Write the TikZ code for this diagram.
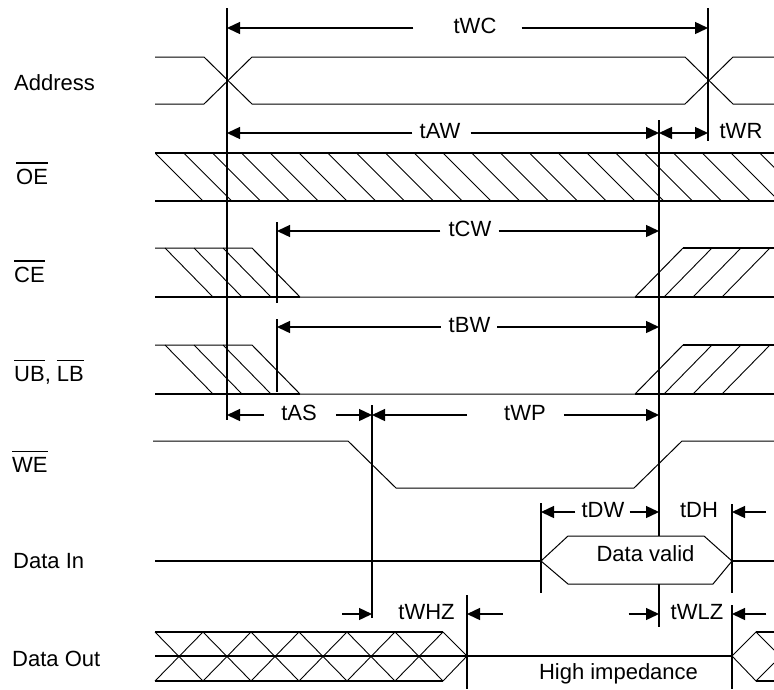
\documentclass[tikz,border=0pt]{standalone}
\usepackage{fontspec}
\setmainfont{Liberation Sans}
\usetikzlibrary{arrows.meta}
\newsavebox{\barbox}
\newcommand{\bartxt}[1]{\sbox{\barbox}{#1}\rlap{\rule[\dimexpr\ht\barbox+4.5pt\relax]{\wd\barbox}{1.8pt}}\usebox{\barbox}}

\begin{document}
\begin{tikzpicture}[x=1pt, y=-1pt,
  font=\fontsize{22}{24}\selectfont,
  sig/.style={line width=1pt},
  bus/.style={line width=1.7pt},
  hatch/.style={line width=0.9pt},
  guide/.style={line width=1.7pt},
  dim/.style={line width=1.4pt, -{Triangle[length=13pt,width=12pt]}},
  dimboth/.style={line width=1.4pt, {Triangle[length=13pt,width=12pt]}-{Triangle[length=13pt,width=12pt]}},
  lbl/.style={inner sep=0pt, text height=15.5pt, text depth=4.5pt},
  signame/.style={anchor=base west, inner sep=0pt}]
\useasboundingbox (0,0) rectangle (774,689);

% signal names
\node[signame] (Addr) at (14,90) {Address};
\node[signame] (OE) at (16,184) {\bartxt{OE}};
\node[signame] (CE) at (14,282) {\bartxt{CE}};
\node[signame] (UBLB) at (14,381) {\bartxt{UB}, \bartxt{LB}};
\node[signame] (WE) at (12,472) {\bartxt{WE}};
\node[signame] (DIn) at (13,568) {Data In};
\node[signame] (DOut) at (12,666) {Data Out};

% Address
\draw[sig] (155,57) -- (204,57) -- (252,104) -- (685,104) -- (733,57) -- (774,57);
\draw[sig] (155,104) -- (204,104) -- (252,57) -- (685,57) -- (733,104) -- (774,104);

% OE (don't care)
\begin{scope}
  \clip (155,153) rectangle (774,201);
  \foreach \i in {0,...,21} \draw[hatch] ({155+28.8*\i},153) -- ++(48,48);
\end{scope}
\draw[bus] (155,153) -- (774,153) (155,201) -- (774,201);

% CE and UB/LB
\foreach \dy in {0,97} {
  \begin{scope}[yshift=-\dy pt]
    \draw[sig] (155,248) -- (252,248) -- (300,297) -- (635,297) -- (683,248);
    \draw[bus] (155,297) -- (300,297);
    \draw[bus] (683,248) -- (774,248) (635,297) -- (774,297);
    \foreach \x in {165,194,223} \draw[hatch] (\x,248) -- ++(48,49);
    \foreach \x in {664,693,722} \draw[hatch] (\x,297) -- ++(48,-49);
  \end{scope}
}

% WE
\draw[sig] (153,441) -- (348,441) -- (396,488) -- (634,488) -- (682,441) -- (774,441);

% Data In
\draw[bus] (155,561) -- (541,561);
\draw[bus] (732,561) -- (774,561);

% Data Out
\foreach \i in {0,...,5}
  \draw[hatch] ({155+48*\i},632) -- ++(48,49) ({155+48*\i},681) -- ++(48,-49);
\draw[hatch] (443,632) -- (467,656) -- (443,681);
\draw[line width=1.3pt] (155,632) -- (443,632) (155,681) -- (443,681);
\draw[bus] (155,656) -- (732,656);
\draw[hatch] (774,650) -- (756,632) -- (732,656) -- (756,681) -- (774,663);
\draw[line width=1.3pt] (756,632) -- (774,632) (756,681) -- (774,681);

% guide lines
\coordinate (A1) at (227,8);   \coordinate (A2) at (227,420);
\coordinate (B1) at (708,8);   \coordinate (B2) at (708,141);
\coordinate (C1) at (659,120); \coordinate (C2) at (659,627);
\coordinate (D1) at (277,222); \coordinate (D2) at (277,303);
\coordinate (D3) at (277,319); \coordinate (D4) at (277,392);
\coordinate (E1) at (372,405); \coordinate (E2) at (372,618);
\coordinate (F1) at (541,503); \coordinate (F2) at (541,593);
\coordinate (G1) at (732,504); \coordinate (G2) at (732,593);
\coordinate (G3) at (732,605); \coordinate (G4) at (732,689);
\coordinate (H1) at (467,595); \coordinate (H2) at (467,689);
\draw[guide] (A1) -- (A2);
\draw[guide] (B1) -- (B2);
\draw[guide] (C1) -- (C2);
\draw[guide] (D1) -- (D2);
\draw[guide] (D3) -- (D4);
\draw[guide] (E1) -- (E2);
\draw[guide] (F1) -- (F2);
\draw[guide] (G1) -- (G2);
\draw[guide] (G3) -- (G4);
\draw[guide] (H1) -- (H2);

% data valid window
\draw[sig, fill=white] (541,561) -- (568,536) -- (704,536) -- (732,561) -- (713,584) -- (568,584) -- cycle;
\node[lbl] (DV) at (645.5,556) {Data valid};
\node[lbl] (HiZ) at (618.5,674) {High impedance};

% timing labels
\node[lbl] (tWC) at (475,28) {tWC};
\node[lbl] (tAW) at (440,133) {tAW};
\node[lbl] (tWR) at (741,133) {tWR};
\node[lbl] (tCW) at (470,231) {tCW};
\node[lbl] (tBW) at (469.5,327) {tBW};
\node[lbl] (tAS) at (299,415) {tAS};
\node[lbl] (tWP) at (525,415) {tWP};
\node[lbl] (tDW) at (603,512) {tDW};
\node[lbl] (tDH) at (699,512) {tDH};
\node[lbl] (tWHZ) at (426.5,614) {tWHZ};
\node[lbl] (tWLZ) at (697,614) {tWLZ};

% timing arrows
\draw[dim] ([xshift=-40pt]tWC.west) -- (tWC -| A1);
\draw[dim] ([xshift=25pt]tWC.east) -- (tWC -| B1);
\draw[dim] ([xshift=-7pt]tAW.west) -- (tAW -| A1);
\draw[dim] ([xshift=10pt]tAW.east) -- (tAW -| C1);
\draw[dimboth] (tAW -| C1) -- (tAW -| B1);
\draw[dim] ([xshift=-8pt]tCW.west) -- (tCW -| D1);
\draw[dim] ([xshift=7pt]tCW.east) -- (tCW -| C1);
\draw[dim] ([xshift=-8pt]tBW.west) -- (tBW -| D3);
\draw[dim] ([xshift=7pt]tBW.east) -- (tBW -| C1);
\draw[dim] ([xshift=-17pt]tAS.west) -- (tAS -| A1);
\draw[dim] ([xshift=19pt]tAS.east) -- (tAS -| E1);
\draw[dim] ([xshift=-37pt]tWP.west) -- (tWP -| E1);
\draw[dim] ([xshift=18pt]tWP.east) -- (tWP -| C1);
\draw[dim] ([xshift=-6pt]tDW.west) -- (tDW -| F1);
\draw[dim] ([xshift=5pt]tDW.east) -- (tDW -| C1);
\draw[dim] ([xshift=48pt]tDH.east) -- (tDH -| G1);
\draw[dim] ([xshift=-56pt]tWHZ.west) -- (tWHZ -| E1);
\draw[dim] ([xshift=48pt]tWHZ.east) -- (tWHZ -| H1);
\draw[dim] ([xshift=-42pt]tWLZ.west) -- (tWLZ -| C1);
\draw[dim] ([xshift=43pt]tWLZ.east) -- (tWLZ -| G3);
\end{tikzpicture}
\end{document}
